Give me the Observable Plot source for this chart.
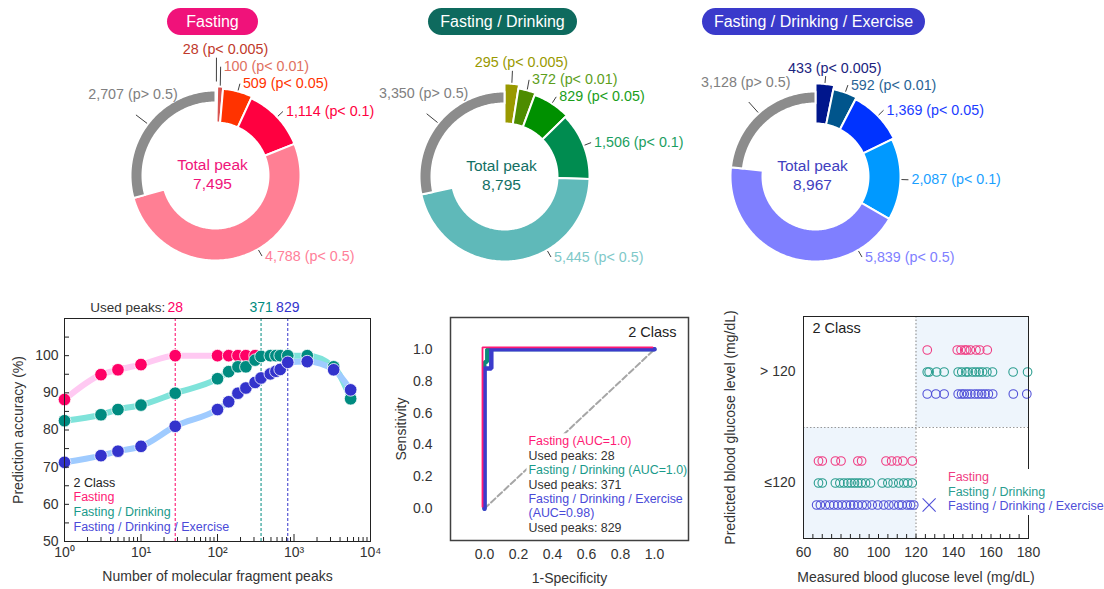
<!DOCTYPE html>
<html><head><meta charset="utf-8">
<script src="https://cdn.jsdelivr.net/npm/d3@7"></script>
<script src="https://cdn.jsdelivr.net/npm/@observablehq/plot@0.6"></script>
<style>
body{margin:0;background:#fff;font-family:"Liberation Sans",Arial,Helvetica,sans-serif;}
#root{position:relative;width:1104px;height:589px;overflow:hidden;background:#fff;}
.pill{position:absolute;color:#fff;font-size:16px;height:27px;line-height:27px;text-align:center;border-radius:14px;white-space:nowrap;}
.legend{position:absolute;background:#fff;font-size:12.5px;line-height:14.5px;white-space:nowrap;padding:1px 2px;}
</style></head><body><div id="root"></div>
<script>
// ---------------- data ----------------
const donutTitles = ["Fasting", "Fasting / Drinking", "Fasting / Drinking / Exercise"];
const pLabels = ["p< 0.005", "p< 0.01", "p< 0.05", "p< 0.1", "p< 0.5", "p> 0.5"];
const fastingPeaks = [28, 100, 509, 1114, 4788, 2707];
const drinkingPeaks = [295, 372, 829, 1506, 5445, 3350];
const exercisePeaks = [433, 592, 1369, 2087, 5839, 3128];
const totalPeaks = [7495, 8795, 8967];

const peakCounts = [1, 3, 5, 10, 28, 100, 140, 185, 235, 310, 371, 490, 580, 660, 829, 1490, 3300, 5500];
const accFasting = [88.2, 94.9, 96.2, 97.6, 100, 100, 100, 100, 100, 100];
const accDrinking = [82.5, 84.1, 85.5, 86.7, 89.9, 93.8, 95.7, 97.0, 97.0, 98.8, 99.8, 100, 100, 100, 100, 100, 97.0, 88.4];
const accExercise = [71.3, 73.1, 74.3, 75.6, 81.0, 85.5, 87.6, 89.9, 91.3, 92.8, 94.0, 95.1, 95.8, 96.3, 98.2, 98.4, 96.2, 90.8];
const usedPeaks = [28, 371, 829];
const classLegend = ["2 Class", "Fasting", "Fasting / Drinking", "Fasting / Drinking / Exercise"];

const rocFastingFpr = [0, 0, 1];
const rocFastingTpr = [0, 1, 1];
const rocDrinkingFpr = [0, 0, 0.015, 0.015, 1];
const rocDrinkingTpr = [0, 0.92, 0.92, 1, 1];
const rocExerciseFpr = [0, 0, 0.04, 0.04, 1];
const rocExerciseTpr = [0, 0.88, 0.88, 1, 1];
const rocLegend = ["Fasting (AUC=1.0)", "Used peaks: 28", "Fasting / Drinking (AUC=1.0)", "Used peaks: 371",
                   "Fasting / Drinking / Exercise", "(AUC=0.98)", "Used peaks: 829"];

const predictedClasses = ["≤120", "> 120"];
const glucoseThreshold = 120;
const fastingHigh = [126, 142, 144, 146, 147, 149, 152, 154, 158];
const fastingLow = [68, 70, 77, 80, 89, 91, 104, 107, 110, 113, 118];
const drinkingHigh = [126, 127, 131, 135, 142.5, 144.4, 146.6, 147.8, 150.1, 151.9, 153.7, 155.5, 157.8, 160.8, 171.8, 179.5];
const drinkingLow = [68, 70, 77, 79.4, 81.5, 83.6, 85.4, 87.2, 89, 90.8, 93.1, 95.7, 102, 105, 107.8, 110.8, 113.5, 115.6, 118];
const exerciseHigh = [126, 130.6, 135, 142.5, 144.3, 145.7, 147.5, 149.3, 151.4, 153.2, 155, 156.8, 158.6, 160.9, 171.9, 179.1];
const exerciseLow = [67, 69, 71.7, 74, 76.2, 78.3, 80.6, 82.9, 85.1, 86.8, 89, 91.3, 93.6, 96.6, 99.6, 102.8, 105.5, 108.2, 110.8, 112.6, 115.3, 117.1, 118.8];
const exerciseMissed = [127];

// ---------------- styles ----------------
const FONT = '"Liberation Sans", Arial, Helvetica, sans-serif';
const pillColors = ["#f0127a", "#0e6a5e", "#3a3acb"];
const donutFills = [
  ["#c0504d", "#d9534f", "#ff3300", "#ff0040", "#ff7f94", "#8c8c8c"],
  ["#999900", "#4d8c00", "#009000", "#008c50", "#5fb9b9", "#8c8c8c"],
  ["#00168c", "#00558c", "#0033ff", "#0099ff", "#7f7fff", "#8c8c8c"]];
const donutLabelColors = [
  ["#c0392b", "#e07060", "#ff3300", "#ff0040", "#ff8099", "#808080"],
  ["#999900", "#5c9e1a", "#1a9e1a", "#1a9e60", "#7fc9c9", "#808080"],
  ["#1a237e", "#2a6496", "#1a3cff", "#1a9fff", "#8080ff", "#808080"]];
const centerColors = ["#f0147a", "#137064", "#4040c0"];
const seriesColors = ["#ff0066", "#008b80", "#3333cc"];
const lineColors = ["#ffc9f2", "#7fe3da", "#9fcbff"];
const textColors = ["#ff1a75", "#1a9a8a", "#4a4ad8"];
const scatterColors = ["#f03c82", "#2a9d8f", "#5050d8"];

const root = document.getElementById("root");
function place(el, left, top) {
  el.style.position = "absolute"; el.style.left = left + "px"; el.style.top = top + "px";
  root.appendChild(el);
}
const baseStyle = {background: "transparent", fontFamily: FONT, fontSize: "14px", color: "#333", overflow: "visible"};

// ---------------- donuts ----------------
function donut(values, fills, labelColors, total, centerColor) {
  const W = 340, H = 250, CX = 150, CY = 140;
  const sum = d3.sum(values), n = values.length, rad = Math.PI / 180;
  const outerR = [93, 89, 87, 85, 85];
  let acc = 0;
  const segs = values.map((v, i) => {
    const a0 = acc / sum * 2 * Math.PI; acc += v; const a1 = acc / sum * 2 * Math.PI;
    const gray = i === n - 1;
    return {i, v, a0, a1, gray, r0: gray ? 73 : 53, r1: gray ? 85 : outerR[i]};
  });
  const pts = segs.flatMap(s => {
    const k = Math.max(2, Math.ceil((s.a1 - s.a0) / rad));
    const angles = d3.range(k + 1).map(j => s.a0 + (s.a1 - s.a0) * j / k);
    const outer = angles.map(a => ({seg: s.i, x: s.r1 * Math.sin(a), y: s.r1 * Math.cos(a)}));
    const inner = angles.slice().reverse().map(a => ({seg: s.i, x: s.r0 * Math.sin(a), y: s.r0 * Math.cos(a)}));
    return outer.concat(inner);
  });
  const labels = segs.map(s => {
    const mid = (s.a0 + s.a1) / 2;
    const a = s.gray ? mid : Math.min(mid, 150 * rad);
    const ro = s.r1 + 1, rl = s.r1 + (s.gray ? 15 : 8);
    return {s, a, x0: ro * Math.sin(a), y0: ro * Math.cos(a), x1: rl * Math.sin(a), y1: rl * Math.cos(a),
            text: `${d3.format(",")(s.v)} (${pLabels[s.i]})`, color: labelColors[s.i]};
  });
  const colored = labels.filter(l => !l.s.gray).sort((p, q) => q.a - p.a);
  for (let j = 1; j < colored.length; j++) colored[j].y1 = Math.max(colored[j].y1, colored[j - 1].y1 + 17);
  for (const l of labels) {
    if (l.s.gray) { l.anchor = "middle"; l.tx = l.x1 - 3; l.ty = l.y1 + 20; l.lx = l.x1; l.ly = l.y1; }
    else if (l.s.i === 0) { l.anchor = "middle"; l.tx = l.x1 + 9; l.ty = l.y1; l.lx = l.x1; l.ly = l.y1 - 8; }
    else { l.anchor = "start"; l.tx = l.x1 + 3; l.ty = l.y1; l.lx = l.x1; l.ly = l.y1; }
  }
  return Plot.plot({
    width: W, height: H, margin: 0,
    x: {domain: [-CX, W - CX], axis: null},
    y: {domain: [CY - H, CY], axis: null},
    color: {type: "identity"},
    style: baseStyle,
    marks: [
      Plot.line(pts, {x: "x", y: "y", z: "seg", fill: d => fills[d.seg], stroke: "white", strokeWidth: 2, curve: "linear-closed"}),
      Plot.link(labels, {x1: "x0", y1: "y0", x2: "lx", y2: "ly", stroke: "#404040", strokeWidth: 1}),
      Plot.text(labels.filter(l => l.anchor === "start"), {x: "tx", y: "ty", text: "text", fill: "color", textAnchor: "start", fontSize: 14.3}),
      Plot.text(labels.filter(l => l.anchor === "middle"), {x: "tx", y: "ty", text: "text", fill: "color", textAnchor: "middle", fontSize: 14.3}),
      Plot.text([{x: 0, y: 0, t: `Total peak\n${d3.format(",")(total)}`}], {x: "x", y: "y", text: "t", fill: centerColor, fontSize: 15.5, lineHeight: 1.22, dx: -3, dy: -2})
    ]
  });
}
const donutData = [fastingPeaks, drinkingPeaks, exercisePeaks];
const donutCenters = [[215, 175], [504, 176], [815, 176]];
const pillBoxes = [[167, 91], [428, 149], [702, 223]];
donutData.forEach((vals, k) => {
  const svg = donut(vals, donutFills[k], donutLabelColors[k], totalPeaks[k], centerColors[k]);
  place(svg, donutCenters[k][0] - 150, donutCenters[k][1] - 140);
  const pill = document.createElement("div");
  pill.className = "pill"; pill.textContent = donutTitles[k];
  pill.style.background = pillColors[k]; pill.style.width = pillBoxes[k][1] + "px";
  place(pill, pillBoxes[k][0], 8);
});

// ---------------- accuracy vs peaks ----------------
(function () {
  const W = 380, H = 299, mL = 64, mR = 10, mT = 28, mB = 48;
  const iW = W - mL - mR, iH = H - mT - mB;
  const series = [accFasting, accDrinking, accExercise];
  const rows = series.flatMap((acc, s) => acc.map((v, i) => ({s, x: peakCounts[i], y: v})));
  const sup = "⁰¹²³⁴";
  const decades = [1, 10, 100, 1000, 10000];
  const minor = d3.range(0, 4).flatMap(e => d3.range(2, 10).map(m => m * 10 ** e));
  const svg = Plot.plot({
    width: W, height: H, marginLeft: mL, marginRight: mR, marginTop: mT, marginBottom: mB,
    x: {type: "log", domain: [1, 1e4], label: null},
    y: {domain: [50, 110], label: null},
    color: {type: "identity"},
    style: baseStyle,
    marks: [
      Plot.ruleX(usedPeaks, {x: d => d, stroke: (d, i) => seriesColors[i], strokeDasharray: "3,2", strokeWidth: 1}),
      ...[0, 1, 2].map(s => Plot.line(rows.filter(r => r.s === s), {x: "x", y: "y", stroke: lineColors[s], strokeWidth: 6, curve: "monotone-x"})),
      ...[0, 1, 2].map(s => Plot.dot(rows.filter(r => r.s === s), {x: "x", y: "y", r: 6.3, fill: seriesColors[s], stroke: "white", strokeWidth: 0.8})),
      Plot.ruleX(minor, {x: d => d, insetTop: iH - 4, stroke: "#222"}),
      Plot.ruleX(decades, {x: d => d, insetTop: iH - 7, stroke: "#222"}),
      Plot.ruleY(d3.range(55, 110, 5), {y: d => d, insetRight: iW - 5, stroke: "#222"}),
      Plot.frame({stroke: "#222"}),
      Plot.axisX({ticks: decades, tickFormat: d => "10" + sup[Math.round(Math.log10(d))], tickSize: 0, tickPadding: 6, fontSize: 14, label: null}),
      Plot.axisY({ticks: d3.range(50, 101, 10), tickSize: 0, tickPadding: 6, fontSize: 14, label: null}),
      Plot.text(["Used peaks:"], {x: () => usedPeaks[0], frameAnchor: "top", textAnchor: "end", lineAnchor: "middle", dx: -10, dy: -11, fill: "#333", fontSize: 13.5}),
      Plot.text(usedPeaks, {x: d => d, text: d => String(d), frameAnchor: "top", lineAnchor: "middle", dy: -11, fill: (d, i) => seriesColors[i], fontSize: 14}),
      ...classLegend.map((t, i) => Plot.text([t], {frameAnchor: "bottom-left", textAnchor: "start", lineAnchor: "middle", dx: 9, dy: -59 + i * 14.8,
        fill: i === 0 ? "#222" : textColors[i - 1], fontSize: 12.5})),
      Plot.text(["Number of molecular fragment peaks"], {frameAnchor: "bottom", textAnchor: "middle", lineAnchor: "middle", dy: 35, fill: "#333", fontSize: 14}),
      Plot.text(["Prediction accuracy (%)"], {frameAnchor: "left", textAnchor: "middle", lineAnchor: "middle", rotate: -90, dx: -46, fill: "#333", fontSize: 14})
    ]
  });
  place(svg, 0, 290);
})();

// ---------------- ROC ----------------
(function () {
  const W = 320, H = 299;
  const toRows = (fx, ty) => fx.map((x, i) => ({x, y: ty[i]}));
  const legendColor = i => i === 0 ? textColors[0] : i === 2 ? textColors[1] : (i === 4 || i === 5) ? textColors[2] : "#333";
  const svg = Plot.plot({
    width: W, height: H, marginLeft: 70, marginRight: 12, marginTop: 27, marginBottom: 49,
    x: {domain: [-0.2, 1.2], label: null},
    y: {domain: [-0.2, 1.2], label: null},
    style: baseStyle,
    marks: [
      Plot.line([{x: 0, y: 0}, {x: 1, y: 1}], {x: "x", y: "y", stroke: "#a6a6a6", strokeWidth: 2, strokeDasharray: "6,3"}),
      Plot.line(toRows(rocDrinkingFpr, rocDrinkingTpr), {x: "x", y: "y", stroke: "#0b8a7c", strokeWidth: 4, strokeLinejoin: "miter"}),
      Plot.line(toRows(rocExerciseFpr, rocExerciseTpr), {x: "x", y: "y", stroke: "#3b3bcc", strokeWidth: 4.5, strokeLinejoin: "miter"}),
      Plot.line(toRows(rocFastingFpr, rocFastingTpr), {x: "x", y: "y", stroke: "#ff1a75", strokeWidth: 1.8, dx: -2, dy: -2, strokeLinejoin: "miter"}),
      Plot.rect([{x1: 0.25, x2: 1.18, y1: -0.16, y2: 0.47}], {x1: "x1", x2: "x2", y1: "y1", y2: "y2", fill: "white"}),
      Plot.frame({stroke: "#404040", strokeWidth: 1.5}),
      Plot.axisX({ticks: [0, 0.2, 0.4, 0.6, 0.8, 1], tickFormat: d3.format(".1f"), tickSize: 0, tickPadding: 9, fontSize: 14, label: null}),
      Plot.axisY({ticks: [0, 0.2, 0.4, 0.6, 0.8, 1], tickFormat: d3.format(".1f"), tickSize: 0, tickPadding: 18, fontSize: 14, label: null}),
      Plot.text(["2 Class"], {frameAnchor: "top-right", textAnchor: "end", lineAnchor: "middle", dx: -12, dy: 15, fill: "#222", fontSize: 14.5}),
      ...rocLegend.map((t, i) => Plot.text([t], {frameAnchor: "bottom-left", textAnchor: "start", lineAnchor: "middle", dx: 78, dy: -99 + i * 14.4,
        fill: legendColor(i), fontSize: 12.4})),
      Plot.text(["1-Specificity"], {frameAnchor: "bottom", textAnchor: "middle", lineAnchor: "middle", dy: 38, fill: "#333", fontSize: 14}),
      Plot.text(["Sensitivity"], {frameAnchor: "left", textAnchor: "middle", lineAnchor: "middle", rotate: -90, dx: -49, fill: "#333", fontSize: 14})
    ]
  });
  place(svg, 380, 290);
})();

// ---------------- predicted vs measured ----------------
(function () {
  const W = 404, H = 299, mL = 103, mR = 76, mT = 26, mB = 51;
  const iH = H - mT - mB;
  const hi = predictedClasses.indexOf("> 120") + 0.5, lo = predictedClasses.indexOf("≤120") + 0.5;
  const groups = [[fastingHigh, fastingLow], [drinkingHigh, drinkingLow], [exerciseHigh, exerciseLow]];
  const offsets = [-22, 0, 22];
  const quadrants = [{x1: glucoseThreshold, x2: 180, y1: 1, y2: 2}, {x1: 60, x2: glucoseThreshold, y1: 0, y2: 1}];
  const svg = Plot.plot({
    width: W, height: H, marginLeft: mL, marginRight: mR, marginTop: mT, marginBottom: mB,
    x: {domain: [60, 180], label: null},
    y: {domain: [0, 2], label: null},
    style: baseStyle,
    marks: [
      Plot.rect(quadrants, {x1: "x1", x2: "x2", y1: "y1", y2: "y2", fill: "#eef5fc"}),
      Plot.ruleX([glucoseThreshold], {stroke: "#999", strokeDasharray: "1.5,2", strokeWidth: 1.2}),
      Plot.ruleY([1], {stroke: "#999", strokeDasharray: "1.5,2", strokeWidth: 1.2}),
      ...groups.map((g, s) => Plot.dot(
        g[0].map(v => ({x: v, y: hi})).concat(g[1].map(v => ({x: v, y: lo}))),
        {x: "x", y: "y", dy: offsets[s], r: 4.3, stroke: scatterColors[s], strokeWidth: 1.1, fill: "none"})),
      Plot.dot(exerciseMissed.map(v => ({x: v, y: lo})), {x: "x", y: "y", dy: offsets[2], symbol: "times", r: 6, stroke: scatterColors[2], strokeWidth: 1.1}),
      Plot.ruleX(d3.range(65, 180, 5), {x: d => d, insetTop: iH - 4, stroke: "#222"}),
      Plot.frame({stroke: "#222"}),
      Plot.axisX({ticks: d3.range(60, 181, 20), tickSize: 0, tickPadding: 9, fontSize: 14, label: null}),
      Plot.axisY({ticks: [lo, hi], tickFormat: d => predictedClasses[Math.floor(d)], tickSize: 0, tickPadding: 8, fontSize: 14, label: null}),
      Plot.text(["2 Class"], {frameAnchor: "top-left", textAnchor: "start", lineAnchor: "middle", dx: 9, dy: 12, fill: "#222", fontSize: 14.5}),
      Plot.text(["Measured blood glucose level (mg/dL)"], {frameAnchor: "bottom", textAnchor: "middle", lineAnchor: "middle", dy: 39, fill: "#333", fontSize: 14}),
      Plot.text(["Predicted blood glucose level (mg/dL)"], {frameAnchor: "left", textAnchor: "middle", lineAnchor: "middle", rotate: -90, dx: -73, fill: "#333", fontSize: 14})
    ]
  });
  place(svg, 700, 290);
  const lg = document.createElement("div");
  lg.className = "legend";
  lg.innerHTML = classLegend.slice(1).map((t, i) => `<div style="color:${scatterColors[i]}">${t}</div>`).join("");
  place(lg, 946, 469);
})();
</script></body></html>
